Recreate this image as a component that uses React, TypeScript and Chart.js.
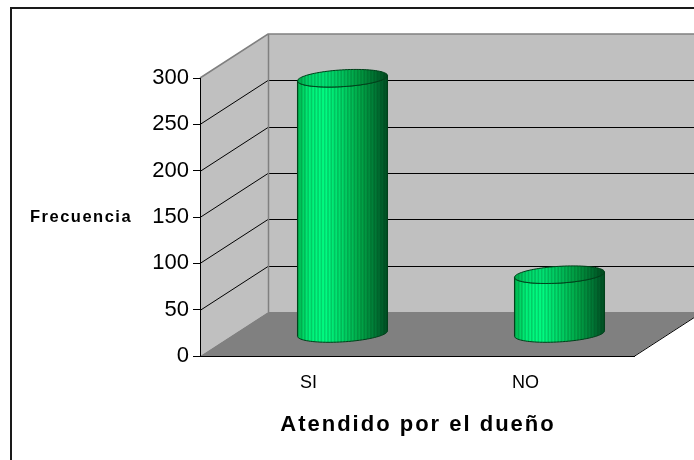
import React, { useEffect, useRef } from "react";
import { Chart, registerables } from "chart.js";

Chart.register(...registerables);

// Frecuencia de clientes atendidos por el dueño
const categories = ["SI", "NO"];
const frecuencia = [276, 64];
const yTickValues = [0, 50, 100, 150, 200, 250, 300];
const yAxisTitle = "Frecuencia";
const xAxisTitle = "Atendido por el dueño";

// 3D box look
const DEPTH_X = 68;
const DEPTH_Y = -44;
const WALL = "#c0c0c0";
const FLOOR = "#808080";
const EDGE = "#808080";
const OUTLINE = "#00401a";
const FONT = "'Liberation Sans', Arial, sans-serif";

function greenFill(ctx: CanvasRenderingContext2D, x0: number, x1: number) {
  const g = ctx.createLinearGradient(x0, 0, x1, 0);
  g.addColorStop(0, "#00b850");
  g.addColorStop(0.12, "#00f078");
  g.addColorStop(0.3, "#00ff84");
  g.addColorStop(0.5, "#00d868");
  g.addColorStop(0.7, "#00a848");
  g.addColorStop(0.88, "#007434");
  g.addColorStop(1, "#004d22");
  return g;
}

function stripes(ctx: CanvasRenderingContext2D, x0: number, x1: number, y0: number, y1: number) {
  ctx.fillStyle = "rgba(0,50,20,0.2)";
  for (let x = x0; x < x1; x += 3.3) {
    ctx.fillRect(x, y0, 1.6, y1 - y0);
  }
}

function ellipsePt(cx: number, cy: number, a: number, vx: number, vy: number, t: number) {
  return [cx + a * Math.cos(t) + vx * Math.sin(t), cy + vy * Math.sin(t)];
}

const frame3d = {
  id: "frame3d",
  beforeDraw(chart: any) {
    const { ctx, chartArea: area, scales } = chart;
    const ys = scales.y;
    const L = area.left;
    const R = area.right;
    const B = ys.getPixelForValue(0);
    const T = ys.getPixelForValue(yTickValues[yTickValues.length - 1]);
    ctx.save();

    // outer frame
    ctx.fillStyle = "#1a1a1a";
    ctx.fillRect(10, 7, 2, chart.height);
    ctx.fillRect(10, 7, chart.width, 2);

    // back wall
    ctx.fillStyle = WALL;
    ctx.fillRect(L + DEPTH_X, T + DEPTH_Y, R - L, B - T);
    // side wall
    ctx.beginPath();
    ctx.moveTo(L, T);
    ctx.lineTo(L + DEPTH_X, T + DEPTH_Y);
    ctx.lineTo(L + DEPTH_X, B + DEPTH_Y);
    ctx.lineTo(L, B);
    ctx.closePath();
    ctx.fill();
    // floor
    ctx.fillStyle = FLOOR;
    ctx.beginPath();
    ctx.moveTo(L, B);
    ctx.lineTo(R, B);
    ctx.lineTo(R + DEPTH_X, B + DEPTH_Y);
    ctx.lineTo(L + DEPTH_X, B + DEPTH_Y);
    ctx.closePath();
    ctx.fill();

    // gridlines on both walls
    ctx.lineWidth = 1;
    ctx.strokeStyle = "#000";
    yTickValues.forEach((v) => {
      if (v === 0 || v === yTickValues[yTickValues.length - 1]) return;
      const py = Math.round(ys.getPixelForValue(v)) + 0.5;
      ctx.beginPath();
      ctx.moveTo(L, py);
      ctx.lineTo(L + DEPTH_X, py + DEPTH_Y);
      ctx.lineTo(R + DEPTH_X, py + DEPTH_Y);
      ctx.stroke();
    });

    // wall edges
    ctx.strokeStyle = EDGE;
    ctx.lineWidth = 1.5;
    ctx.beginPath();
    ctx.moveTo(L, T);
    ctx.lineTo(L + DEPTH_X, T + DEPTH_Y);
    ctx.lineTo(R + DEPTH_X, T + DEPTH_Y);
    ctx.moveTo(L + DEPTH_X + 0.5, T + DEPTH_Y);
    ctx.lineTo(L + DEPTH_X + 0.5, B + DEPTH_Y);
    ctx.stroke();

    // floor right edge
    ctx.strokeStyle = "#000";
    ctx.lineWidth = 1;
    ctx.beginPath();
    ctx.moveTo(R, B + 0.5);
    ctx.lineTo(R + DEPTH_X, B + DEPTH_Y + 0.5);
    ctx.stroke();
    ctx.restore();
  },
  afterDatasetsDraw(chart: any) {
    const { ctx } = chart;
    const meta = chart.getDatasetMeta(0);
    ctx.save();
    meta.data.forEach((bar: any) => {
      const { x, y, base, width } = bar.getProps(["x", "y", "base", "width"], true);
      const cx = x + DEPTH_X / 2;
      const topY = y + DEPTH_Y / 2;
      const botY = base + DEPTH_Y / 2;
      const vx = DEPTH_X * 0.2;
      const vy = DEPTH_Y * 0.2;
      const half = width / 2;
      const a = Math.sqrt(Math.max(half * half - vx * vx, 1));
      const th = Math.atan2(vx, a);
      const N = 48;

      // body
      ctx.beginPath();
      for (let i = 0; i <= N; i++) {
        const t = th + Math.PI + (Math.PI * i) / N;
        const [px, py] = ellipsePt(cx, topY, a, vx, vy, t);
        if (i === 0) ctx.moveTo(px, py);
        else ctx.lineTo(px, py);
      }
      for (let i = 0; i <= N; i++) {
        const t = th + 2 * Math.PI - (Math.PI * i) / N;
        const [px, py] = ellipsePt(cx, botY, a, vx, vy, t);
        ctx.lineTo(px, py);
      }
      ctx.closePath();
      ctx.save();
      ctx.clip();
      ctx.fillStyle = greenFill(ctx, cx - half, cx + half);
      ctx.fillRect(cx - half - 1, topY - 20, width + 2, botY - topY + 40);
      stripes(ctx, cx - half, cx + half, topY - 20, botY + 20);
      ctx.restore();
      ctx.strokeStyle = OUTLINE;
      ctx.lineWidth = 1;
      ctx.stroke();

      // top cap
      ctx.beginPath();
      for (let i = 0; i <= N * 2; i++) {
        const t = (Math.PI * i) / N;
        const [px, py] = ellipsePt(cx, topY, a, vx, vy, t);
        if (i === 0) ctx.moveTo(px, py);
        else ctx.lineTo(px, py);
      }
      ctx.closePath();
      ctx.save();
      ctx.clip();
      ctx.fillStyle = greenFill(ctx, cx - half, cx + half);
      ctx.fillRect(cx - half - 1, topY - 15, width + 2, 30);
      ctx.fillStyle = "rgba(0,40,10,0.12)";
      ctx.fillRect(cx - half - 1, topY - 15, width + 2, 30);
      stripes(ctx, cx - half, cx + half, topY - 15, topY + 15);
      ctx.restore();
      ctx.strokeStyle = OUTLINE;
      ctx.stroke();
    });
    ctx.restore();
  },
  afterDraw(chart: any) {
    const { ctx, chartArea: area } = chart;
    ctx.save();
    ctx.fillStyle = "#000";
    ctx.textBaseline = "alphabetic";
    (ctx as any).letterSpacing = "1.5px";
    ctx.font = `bold 16.5px ${FONT}`;
    ctx.textAlign = "left";
    ctx.fillText(yAxisTitle, 30, 222);
    (ctx as any).letterSpacing = "2px";
    ctx.font = `bold 22px ${FONT}`;
    ctx.textAlign = "center";
    ctx.fillText(xAxisTitle, (area.left + area.right) / 2 + 1, 431);
    ctx.restore();
  },
};

export default function App() {
  const canvasRef = useRef<HTMLCanvasElement | null>(null);

  useEffect(() => {
    const canvas = canvasRef.current;
    if (!canvas) return;
    const chart = new Chart(canvas, {
      type: "bar",
      data: {
        labels: categories,
        datasets: [
          {
            label: yAxisTitle,
            data: frecuencia,
            backgroundColor: "rgba(0,0,0,0)",
            borderWidth: 0,
            barPercentage: 0.415,
            categoryPercentage: 1,
          },
        ],
      },
      options: {
        animation: false,
        responsive: false,
        devicePixelRatio: 1,
        layout: { padding: { top: 78, right: 60, bottom: 0, left: 0 } },
        plugins: {
          legend: { display: false },
          tooltip: { enabled: false },
          title: { display: false },
        },
        scales: {
          x: {
            type: "category",
            offset: true,
            grid: { display: false },
            border: { display: true, color: "#000", width: 1 },
            ticks: {
              color: "#000",
              font: { family: FONT, size: 18 },
              padding: 8,
              maxRotation: 0,
            },
            afterFit: (scale: any) => {
              scale.height = 104;
            },
          },
          y: {
            min: 0,
            max: 300,
            grid: {
              drawOnChartArea: false,
              drawTicks: true,
              tickLength: 7,
              color: "#000",
              lineWidth: 1,
            },
            border: { display: true, color: "#000", width: 1 },
            ticks: {
              color: "#000",
              font: { family: FONT, size: 22 },
              padding: 4,
            },
            afterBuildTicks: (scale: any) => {
              scale.ticks = yTickValues.map((v) => ({ value: v }));
            },
            afterFit: (scale: any) => {
              scale.width = 200;
            },
          },
        },
      },
      plugins: [frame3d],
    });
    return () => chart.destroy();
  }, []);

  return (
    <div style={{ position: "fixed", left: 0, top: 0, width: 694, height: 460, background: "#fff" }}>
      <canvas ref={canvasRef} width={694} height={460} />
    </div>
  );
}
